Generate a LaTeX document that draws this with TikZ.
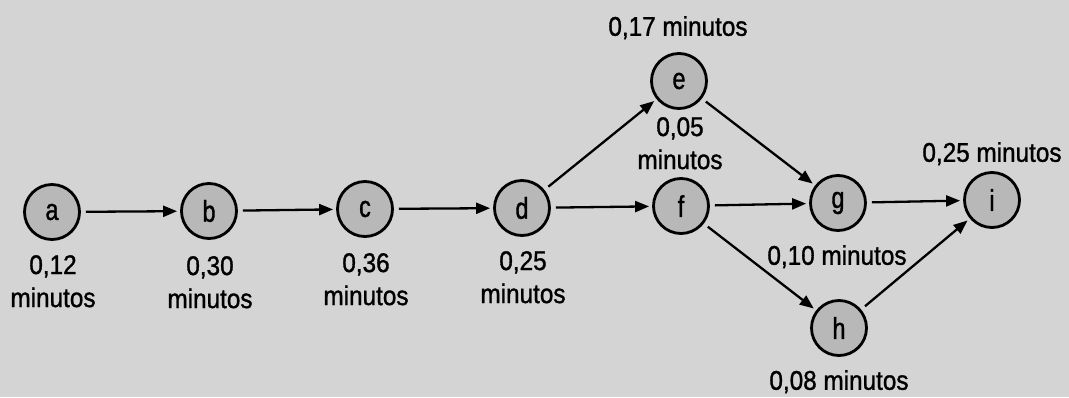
\documentclass[tikz,border=0pt]{standalone}
\usepackage{fontspec}
\setmainfont[FakeStretch=0.9,FakeBold=1.2]{Liberation Sans}
\newfontfamily\nodeletter[FakeStretch=0.78,FakeBold=1.2]{Liberation Sans}
\usetikzlibrary{arrows.meta}
\definecolor{paper}{gray}{0.83}
\definecolor{disc}{gray}{0.72}
\begin{document}
\begin{tikzpicture}[x=1pt,y=-1pt,
  activity/.style={circle,draw=black,line width=2.8pt,fill=disc,minimum size=55pt,inner sep=0pt,font=\nodeletter\fontsize{30}{34}\selectfont},
  timelabel/.style={align=center,anchor=north,font=\fontsize{27}{33}\selectfont,inner sep=0pt},
  link/.style={line width=2.3pt,-{Triangle[length=14pt,width=11pt]},shorten >=3pt,shorten <=5pt}]
  % page
  \fill[paper] (0,0) rectangle (1069,397);
  \useasboundingbox (0,0) rectangle (1069,397);

  % activities
  \node[activity] (a) at (52,212) {a};
  \node[activity] (b) at (209,211) {b};
  \node[activity] (c) at (365,209) {c};
  \node[activity] (d) at (522,208) {d};
  \node[activity] (e) at (679,81) {e};
  \node[activity] (f) at (681,206) {f};
  \node[activity] (g) at (838,203) {g};
  \node[activity] (h) at (839,328) {h};
  \node[activity] (i) at (992,200) {i};

  % durations
  \node[timelabel] (ta) at (53,255) {0,12\\minutos};
  \node[timelabel] (tb) at (210,256) {0,30\\minutos};
  \node[timelabel] (tc) at (366,253) {0,36\\minutos};
  \node[timelabel] (td) at (523,251) {0,25\\minutos};
  \node[timelabel] (te) at (678,16) {0,17 minutos};
  \node[timelabel] (tf) at (680,117) {0,05\\minutos};
  \node[timelabel] (tg) at (837,245) {0,10 minutos};
  \node[timelabel] (th) at (839,370) {0,08 minutos};
  \node[timelabel] (ti) at (992,142) {0,25 minutos};

  % precedences
  \draw[link] (a) -- (b);
  \draw[link] (b) -- (c);
  \draw[link] (c) -- (d);
  \draw[link] (d) -- (e);
  \draw[link] (d) -- (f);
  \draw[link] (e) -- (g);
  \draw[link] (f) -- (g);
  \draw[link] (f) -- (h);
  \draw[link] (g) -- (i);
  \draw[link] (h) -- (i);
\end{tikzpicture}
\end{document}
